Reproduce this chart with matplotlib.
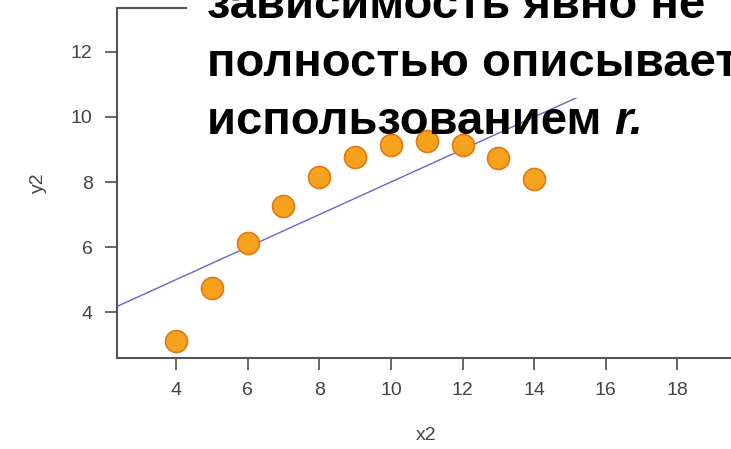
import matplotlib.pyplot as plt
from matplotlib.patches import Rectangle

plt.rcParams['font.family'] = ['Liberation Sans', 'DejaVu Sans']

# Anscombe, набор II
x2 = [10, 8, 13, 9, 11, 14, 6, 4, 12, 7, 5]
y2 = [9.14, 8.14, 8.74, 8.77, 9.26, 8.10, 6.13, 3.10, 9.13, 7.26, 4.74]
fit_a, fit_b = 3.0, 0.5  # y = 3 + 0.5 x

x_ticks = [4, 6, 8, 10, 12, 14, 16, 18]
y_ticks = [4, 6, 8, 10, 12]

title_lines = ["зависимость явно не", "полностью описывает", "использованием "]
title_tail = "r."

W, H = 731, 449
fig = plt.figure(figsize=(W / 100, H / 100), dpi=100)
ax = fig.add_axes([117 / W, 1 - 358 / H, (735 - 117) / W, (358 - 8) / H])

xlim = (2.35, 19.61)
ax.set_xlim(*xlim)
ax.set_ylim(2.59, 13.35)

ax.plot(xlim, [fit_a + fit_b * v for v in xlim], color='#6a64cc', lw=1.0, zorder=2)
ax.scatter(x2, y2, s=250, color='#f7a21c', edgecolors='#e0781a', linewidths=1.2,
           zorder=3, clip_on=False)

ax.set_xticks(x_ticks)
ax.set_yticks(y_ticks)
ax.tick_params(colors='#666666', labelsize=14, length=8.5, width=1.4)
ax.tick_params(axis='x', pad=9)
ax.tick_params(axis='y', pad=9)
ax.tick_params(labelcolor='#444444')
ax.set_xlabel('x2', fontsize=14, color='#444444', va='center')
ax.set_ylabel('y2', fontsize=14, color='#444444')
ax.xaxis.set_label_coords(0.5, (358 - 436) / 350)
ax.yaxis.set_label_coords((47 - 117) / 618, 0.5)
for s in ['left', 'bottom', 'top']:
    ax.spines[s].set_color('#555555')
    ax.spines[s].set_linewidth(1.5)
ax.spines['right'].set_visible(False)

# белая подложка под текстом
fig.patches.append(Rectangle((187 / W, 1 - 98 / H), 1 - 187 / W, 98 / H,
                             transform=fig.transFigure, facecolor='white',
                             edgecolor='none', zorder=5))

baselines = [18, 76, 134]
fs = 34
for line, b in zip(title_lines, baselines):
    t = fig.text(207 / W, 1 - b / H, line, fontsize=fs, fontweight='bold',
                 va='baseline', ha='left', zorder=6)

r = fig.canvas.get_renderer()
bb = t.get_window_extent(renderer=r)
fig.text(bb.x1 / W, 1 - baselines[2] / H, title_tail, fontsize=fs, fontweight='bold',
         fontstyle='italic', va='baseline', ha='left', zorder=6)

fig.savefig('out.png', dpi=100)
